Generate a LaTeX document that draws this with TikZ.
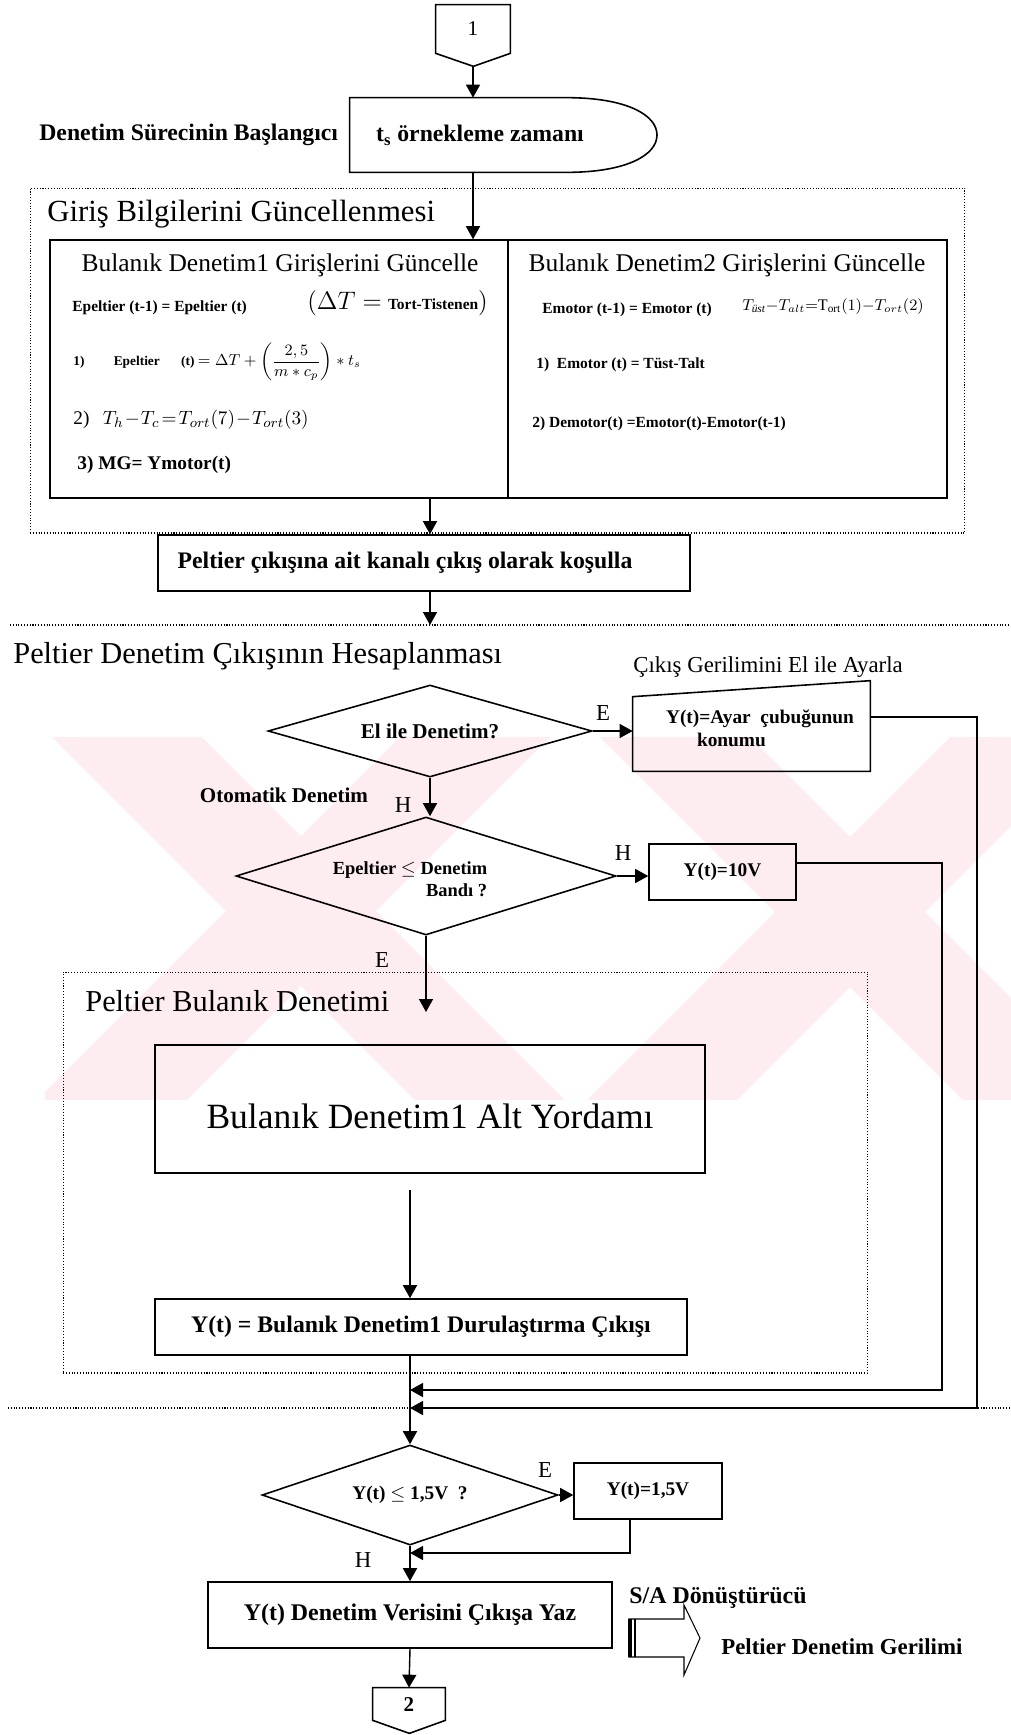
\documentclass[tikz,border=0pt]{standalone}
\usepackage{amsmath}
\usepackage{fontspec}
\setmainfont{Liberation Serif}
\usetikzlibrary{shapes,arrows.meta,positioning,calc}

\definecolor{wmpink}{RGB}{253,236,240}

\begin{document}
\begin{tikzpicture}[x=0.02cm, y=-0.02cm,
            box/.style={rectangle, draw, line width=0.9pt, inner sep=0pt},
            decision/.style={diamond, draw, line width=0.9pt, inner sep=0pt, aspect=#1},
            group/.style={draw, densely dotted, line width=0.6pt},
            arr/.style={line width=0.8pt, -{Triangle[length=2.6mm,width=2.8mm]}},
            txt/.style={inner sep=0pt, font=\fontsize{#1}{#1}\selectfont},
            btxt/.style={inner sep=0pt, font=\bfseries\fontsize{#1}{#1}\selectfont}]

            \useasboundingbox (0,0) rectangle (1011,1735);

            % Watermark stripes
            \begin{scope}
                \clip (45,737) rectangle (1011,1100);
                \foreach \s in {52,600} {
                    \fill[wmpink] (\s,737) -- ++(150,0) -- ++(363,363) -- ++(-150,0) -- cycle;
                }
                \foreach \s in {550,1100} {
                    \fill[wmpink] (\s,737) -- ++(-150,0) -- ++(-363,363) -- ++(150,0) -- cycle;
                }
            \end{scope}

            % Start
            \node[draw=none, inner sep=0pt, minimum width=1.48cm, minimum height=0.96cm, txt=12] (conA) at (473,29) {1};
            \draw[line width=0.9pt] (conA.north west) -- (conA.north east) -- (conA.south east) -- ++(-37,13) -- (conA.south west) -- cycle;
            \coordinate (conAtip) at ($(conA.south)+(0,13)$);

            \node[btxt=13.5, anchor=west] (startlbl) at (39,135) {Denetim Sürecinin Başlangıcı};
            \node[btxt=13.5, minimum width=5.2cm, minimum height=1.48cm] (tsamp) at (480,135) {t\textsubscript{s} örnekleme zamanı};
            \draw[line width=0.9pt] (tsamp.north west) -- ++(217,0) .. controls +(60,0) and +(0,-20) .. (657,135)
                .. controls +(0,20) and +(60,0) .. ($(tsamp.south west)+(217,0)$) -- (tsamp.south west) -- cycle;

            % Input update
            \node[group, minimum width=18.7cm, minimum height=6.9cm] (grp1) at (497.5,360.5) {};
            \node[txt=17.5, anchor=west] (grp1lbl) at (47,214) {Giriş Bilgilerini Güncellenmesi};

            \node[box, minimum width=9.16cm, minimum height=5.16cm] (inL) at (279,369) {};
            \node[box, minimum width=8.78cm, minimum height=5.16cm] (inR) at (727.5,369) {};

            \node[txt=14.5] (inLt) at (280,265) {Bulanık Denetim1 Girişlerini Güncelle};
            \node[btxt=8.8, anchor=west] (ep1) at (72,308) {Epeltier (t-1) = Epeltier (t)};
            \node[anchor=west, inner sep=0pt] (dT) at (307,303) {\fontsize{14}{14}\selectfont $(\Delta T =$ {\bfseries\fontsize{8.8}{9}\selectfont Tort-Tistenen}$)$};
            \node[btxt=7.6, anchor=west] (ep2) at (73,362) {1)\hspace{2.2em}Epeltier\hspace{1.6em}(t)\ {\fontsize{9}{9}\selectfont$\displaystyle = \Delta T + \left(\frac{2,5}{m * c_p}\right) * t_s$}};
            \node[anchor=west, inner sep=0pt] (ep3) at (73,420) {\fontsize{11}{12}\selectfont\medmuskip=1mu\thickmuskip=2mu 2)\hspace{0.7em}$T_h - T_c = T_{ort}(7) - T_{ort}(3)$};
            \node[btxt=11, anchor=west] (ep4) at (77,465) {3) MG= Ymotor(t)};

            \node[txt=14.5] (inRt) at (727,265) {Bulanık Denetim2 Girişlerini Güncelle};
            \node[btxt=8.8, anchor=west] (em1) at (542,310) {Emotor (t-1) = Emotor (t)};
            \node[anchor=west, inner sep=0pt] (em0) at (742,307) {\fontsize{9.2}{10}\selectfont\medmuskip=0mu\thickmuskip=0mu $T_{\text{\itshape üst}}-T_{alt}=\mathrm{T}_{\mathrm{ort}}(1)-T_{ort}(2)$};
            \node[btxt=8.8, anchor=west] (em2) at (536,365) {1)\ \ Emotor (t) = Tüst-Talt};
            \node[btxt=8.8, anchor=west] (em3) at (532,424) {2) Demotor(t) =Emotor(t)-Emotor(t-1)};

            \node[box, minimum width=10.64cm, minimum height=1.12cm] (pelt) at (424,563) {};
            \node[btxt=13.5] (pelttxt) at (405,563) {Peltier çıkışına ait kanalı çıkış olarak koşulla};

            % Section separator
            \coordinate (sep1L) at (10,625);
            \coordinate (sep1R) at (1011,625);
            \draw[densely dotted, line width=0.6pt] (sep1L) -- (sep1R);

            % Output calculation
            \node[txt=17.3, anchor=west] (sec2lbl) at (13,656) {Peltier Denetim Çıkışının Hesaplanması};
            \node[txt=13, anchor=west] (manlbl) at (633,667) {Çıkış Gerilimini El ile Ayarla};

            \node[decision=3.5, btxt=12, minimum width=6.48cm, minimum height=1.84cm] (d1) at (430,731) {El ile Denetim?};

            \node[inner sep=0pt, minimum width=4.74cm, minimum height=1.48cm] (manual) at (751.5,734) {};
            \draw[line width=0.9pt] (manual.north west) -- ($(manual.north east)+(0,-16)$) -- (manual.south east) -- (manual.south west) -- cycle;
            \node[font=\bfseries\fontsize{11}{13}\selectfont, align=left, inner sep=0pt] (mantxt) at (760,728) {Y(t)=Ayar\ \ çubuğunun\\\hspace*{1.6em}konumu};

            \node[btxt=12] (autolbl) at (284,795) {Otomatik Denetim};

            \node[decision=3.2, minimum width=7.6cm, minimum height=2.36cm] (d2) at (426,876) {};
            \node[font=\bfseries\fontsize{10.5}{12.5}\selectfont, align=right, inner sep=0pt] (d2txt) at (410,879) {Epeltier $\leq$ Denetim\\Bandı ?};

            \node[box, btxt=11, minimum width=2.94cm, minimum height=1.12cm] (ten) at (722.5,872) {Y(t)=10V};

            \node[group, minimum width=16.1cm, minimum height=8.02cm] (grp2) at (465.5,1172.5) {};
            \node[txt=17.3, anchor=west] (grp2lbl) at (85,1001) {Peltier Bulanık Denetimi};
            \node[box, minimum width=11cm, minimum height=2.56cm] (alt) at (430,1109) {};
            \node[txt=20.2] (alttxt) at (430,1116) {Bulanık Denetim1 Alt Yordamı};
            \node[box, btxt=13.5, minimum width=10.64cm, minimum height=1.12cm] (ybox) at (421,1327) {Y(t) = Bulanık Denetim1 Durulaştırma Çıkışı};

            \coordinate (blkin) at (426,1012);
            \coordinate (altout) at (410,1190);

            % Second separator
            \coordinate (sep2L) at (8,1408);
            \coordinate (sep2R) at (1011,1408);
            \draw[densely dotted, line width=0.6pt] (sep2L) -- (sep2R);

            % Limit check and output
            \node[decision=2.96, btxt=11, minimum width=5.92cm, minimum height=2cm] (d3) at (410,1495) {Y(t) $\leq$ 1,5V\ \ ?};
            \node[box, btxt=11, minimum width=2.96cm, minimum height=1.12cm] (onefive) at (648,1491) {Y(t)=1,5V};
            \node[box, btxt=13.6, minimum width=8.08cm, minimum height=1.32cm] (write) at (410,1615) {Y(t) Denetim Verisini Çıkışa Yaz};

            \node[draw=none, inner sep=0pt, minimum width=1.44cm, minimum height=0.64cm, btxt=12] (conB) at (409,1704) {2};
            \draw[line width=0.9pt] (conB.north west) -- (conB.north east) -- (conB.south east) -- ++(-36,13) -- (conB.south west) -- cycle;

            % D/A converter symbol
            \coordinate (dac) at (629,1638);
            \draw[line width=0.6pt] ($(dac)+(0,-19)$) -- ++(55,0) -- ++(0,-14) -- ++(16,33) -- ++(-16,37) -- ++(0,-18) -- ++(-55,0) -- cycle;
            \draw[line width=1.8pt] ($(dac)+(1,-19)$) -- ++(0,38);
            \draw[line width=0.6pt] ($(dac)+(6,-19)$) -- ++(0,38);
            \node[btxt=13.6, anchor=west] (dalbl) at (629,1598) {S/A Dönüştürücü};
            \node[btxt=13, anchor=west] (outlbl) at (721,1647) {Peltier Denetim Gerilimi};

            % Branch labels
            \node[txt=13] (lE1) at (603,713) {E};
            \node[txt=13] (lH1) at (403,805) {H};
            \node[txt=13] (lH2) at (623,853) {H};
            \node[txt=13] (lE2) at (382,960) {E};
            \node[txt=13] (lE3) at (545,1470) {E};
            \node[txt=13] (lH3) at (363,1560) {H};

            % Connections
            \coordinate (sep1in) at (430,625);
            \coordinate (m1) at (410,1390);
            \coordinate (m2) at (410,1408);
            \coordinate (m3) at (410,1553);

            \draw[arr] (conAtip) -- (conAtip |- tsamp.north);
            \draw[arr] (conAtip |- tsamp.south) -- (conAtip |- inL.north);
            \draw[arr] (inL.south -| d1.north) -- (pelt.north -| d1.north);
            \draw[arr] (pelt.south -| d1.north) -- (sep1in);

            \draw[arr] (d1.east) -- (d1.east -| manual.west);
            \draw[arr] (d1.south) -- (d1.south |- d2.north);
            \draw[arr] (d2.east) -- (d2.east -| ten.west);
            \draw[arr] (d2.south) -- (blkin);
            \draw[arr] (altout) -- (altout |- ybox.north);
            \draw[arr] (ybox.south -| d3.north) -- (d3.north);

            \draw[arr] ([yshift=0.18cm]ten.east) -| (942,1390) -- (m1);
            \draw[arr] ([yshift=0.34cm]manual.east) -| (977,1408) -- (m2);

            \draw[arr] (d3.east) -- (d3.east -| onefive.west);
            \draw[arr] ([xshift=-0.36cm]onefive.south) |- (m3);
            \draw[arr] (d3.south) -- (write.north);
            \draw[arr] (write.south) -- (conB.north);
        \end{tikzpicture}
\end{document}
